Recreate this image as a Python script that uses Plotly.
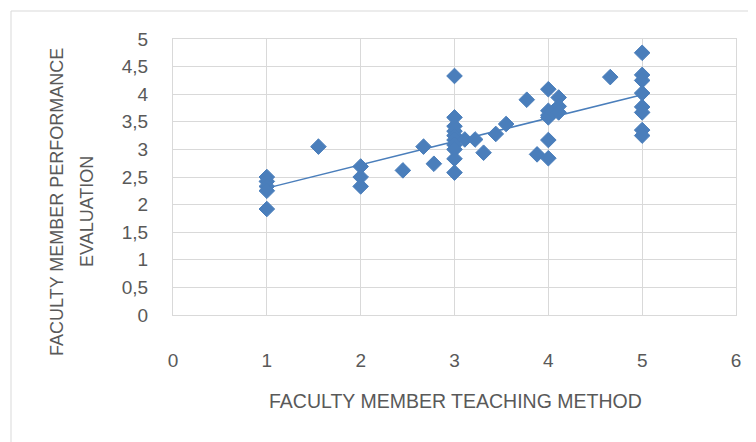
import numpy as np
import plotly.graph_objects as go

# Data
teaching_method = [1, 1, 1, 1, 1,
                   1.55,
                   2, 2, 2,
                   2.45, 2.67, 2.78,
                   3, 3, 3, 3, 3, 3, 3, 3, 3, 3,
                   3.11, 3.22, 3.31, 3.44, 3.55, 3.77, 3.88,
                   4, 4, 4, 4, 4, 4, 4.05, 4.11, 4.11, 4.11,
                   4.66,
                   5, 5, 5, 5, 5, 5, 5, 5]
performance = [2.5, 2.42, 2.33, 2.25, 1.92,
               3.05,
               2.69, 2.5, 2.33,
               2.62, 3.05, 2.74,
               4.33, 3.58, 3.42, 3.33, 3.25, 3.17, 3.08, 3.0, 2.83, 2.58,
               3.18, 3.18, 2.94, 3.28, 3.46, 3.9, 2.91,
               4.09, 3.7, 3.62, 3.58, 3.17, 2.84, 3.68, 3.94, 3.78, 3.67,
               4.31,
               4.75, 4.35, 4.25, 4.02, 3.77, 3.67, 3.35, 3.25]

x_ticks = [0, 1, 2, 3, 4, 5, 6]
y_ticks = [0, 0.5, 1, 1.5, 2, 2.5, 3, 3.5, 4, 4.5, 5]
y_tick_labels = ["0", "0,5", "1", "1,5", "2", "2,5", "3", "3,5", "4", "4,5", "5"]

x_title = "FACULTY MEMBER TEACHING METHOD"
y_title_1 = "FACULTY MEMBER PERFORMANCE"
y_title_2 = "EVALUATION"

BLUE = "#4a7ebb"
GRID = "#d9d9d9"
TEXT = "#595959"
FONT = "Liberation Sans, Arial, sans-serif"

# the page body adds an 8px margin, so the figure is drawn 8px smaller
OFF = 8
W, H = 756 - OFF, 442 - OFF
L, R, T, B = 173 - OFF, 20, 39 - OFF, 127
PW, PH = W - L - R, H - T - B


def px_x(px):
    return (px - OFF - L) / PW


def px_y(py):
    return (H - B - (py - OFF)) / PH


xa = np.array(teaching_method, dtype=float)
ya = np.array(performance, dtype=float)
slope, intercept = np.polyfit(xa, ya, 1)
trend_x = np.array([xa.min(), xa.max()])
trend_y = intercept + slope * trend_x

fig = go.Figure()
fig.add_trace(go.Scatter(
    x=trend_x, y=trend_y, mode="lines",
    line=dict(color=BLUE, width=1.5), showlegend=False, hoverinfo="skip"))
fig.add_trace(go.Scatter(
    x=teaching_method, y=performance, mode="markers",
    marker=dict(symbol="diamond", size=12, color=BLUE,
                line=dict(color=BLUE, width=1)),
    showlegend=False))

fig.update_layout(
    width=W, height=H,
    margin=dict(l=L, r=R, t=T, b=B),
    paper_bgcolor="white", plot_bgcolor="white",
    font=dict(family=FONT, color=TEXT, size=19),
    xaxis=dict(range=[0, 6], tickvals=x_ticks, showgrid=True, gridcolor=GRID,
               gridwidth=1, zeroline=False, showline=True, linecolor=GRID,
               linewidth=1, mirror=True, ticks="", ticklabelstandoff=28,
               tickfont=dict(size=19, color=TEXT)),
    yaxis=dict(range=[0, 5], tickvals=y_ticks, ticktext=y_tick_labels,
               showgrid=True, gridcolor=GRID, gridwidth=1, zeroline=False,
               showline=True, linecolor=GRID, linewidth=1, mirror=True,
               ticks="", ticklabelstandoff=20,
               tickfont=dict(size=19, color=TEXT)),
    shapes=[dict(type="rect", xref="paper", yref="paper",
                 x0=px_x(11), x1=px_x(780), y0=px_y(470), y1=px_y(11),
                 line=dict(color=GRID, width=1), fillcolor="rgba(0,0,0,0)",
                 layer="below")],
    annotations=[
        dict(text=x_title, xref="paper", yref="paper", x=px_x(455), y=px_y(401),
             showarrow=False, xanchor="center", yanchor="middle",
             font=dict(size=19.5, color=TEXT, family=FONT)),
        dict(text=y_title_1, xref="paper", yref="paper", x=px_x(57), y=px_y(202),
             showarrow=False, xanchor="center", yanchor="middle", textangle=-90,
             font=dict(size=18, color=TEXT, family=FONT)),
        dict(text=y_title_2, xref="paper", yref="paper", x=px_x(87), y=px_y(212),
             showarrow=False, xanchor="center", yanchor="middle", textangle=-90,
             font=dict(size=18, color=TEXT, family=FONT)),
    ],
)

fig.write_html("out.html")
